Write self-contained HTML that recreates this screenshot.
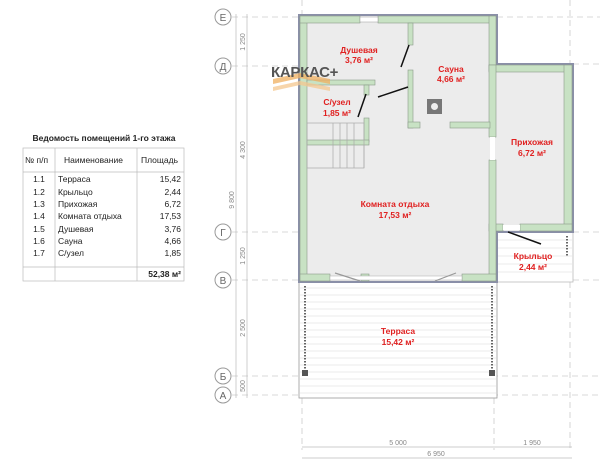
<!DOCTYPE html>
<html><head><meta charset="utf-8"><style>
body{margin:0;background:#fff;width:600px;height:464px;overflow:hidden;font-family:"Liberation Sans",sans-serif}
</style></head><body>
<svg width="600" height="464" viewBox="0 0 600 464" xmlns="http://www.w3.org/2000/svg" font-family="Liberation Sans, sans-serif">
<g stroke="#ccc" stroke-width="0.8" stroke-dasharray="6,4" fill="none">
<line x1="232" y1="17" x2="300" y2="17"/><line x1="497" y1="17" x2="600" y2="17"/>
<line x1="232" y1="66" x2="300" y2="66"/><line x1="573" y1="64" x2="600" y2="64"/>
<line x1="232" y1="232" x2="300" y2="232"/><line x1="573" y1="232" x2="600" y2="232"/>
<line x1="232" y1="280" x2="300" y2="280"/><line x1="573" y1="280" x2="600" y2="280"/>
<line x1="232" y1="376" x2="600" y2="376"/>
<line x1="232" y1="395" x2="600" y2="395"/>
<line x1="302" y1="0" x2="302" y2="14"/><line x1="302" y1="398" x2="302" y2="450"/>
<line x1="494" y1="398" x2="494" y2="450"/>
<line x1="570" y1="0" x2="570" y2="64"/><line x1="570" y1="282" x2="570" y2="450"/>
</g>
<g stroke="#bbb" stroke-width="0.7">
<line x1="247" y1="14" x2="247" y2="398"/><line x1="236" y1="14" x2="236" y2="398"/>
<line x1="302" y1="447" x2="572" y2="447"/><line x1="302" y1="458" x2="572" y2="458"/>
</g>
<g font-size="7" fill="#888" text-anchor="middle">
<text transform="translate(245,42) rotate(-90)">1 250</text>
<text transform="translate(245,150) rotate(-90)">4 300</text>
<text transform="translate(234,200) rotate(-90)">9 800</text>
<text transform="translate(245,256) rotate(-90)">1 250</text>
<text transform="translate(245,328) rotate(-90)">2 500</text>
<text transform="translate(245,386) rotate(-90)">500</text>
<text x="398" y="445">5 000</text><text x="532" y="445">1 950</text><text x="436" y="456">6 950</text>
</g>
<g fill="#fff" stroke="#999" stroke-width="1">
<circle cx="223" cy="17" r="8"/><circle cx="223" cy="66" r="8"/><circle cx="223" cy="232" r="8"/>
<circle cx="223" cy="280" r="8"/><circle cx="223" cy="376" r="8"/><circle cx="223" cy="395" r="8"/>
</g>
<g font-size="10" fill="#666" text-anchor="middle">
<text x="223" y="21">Е</text><text x="223" y="70">Д</text><text x="223" y="236">Г</text>
<text x="223" y="284">В</text><text x="223" y="380">Б</text><text x="223" y="399">А</text>
</g>
<rect x="299" y="282" width="198" height="116" fill="#fff" stroke="#999" stroke-width="0.8"/>
<g stroke="#e4e4e4" stroke-width="0.7">
<line x1="300" y1="288" x2="496" y2="288"/><line x1="300" y1="295" x2="496" y2="295"/><line x1="300" y1="302" x2="496" y2="302"/><line x1="300" y1="309" x2="496" y2="309"/><line x1="300" y1="316" x2="496" y2="316"/><line x1="300" y1="323" x2="496" y2="323"/><line x1="300" y1="330" x2="496" y2="330"/><line x1="300" y1="337" x2="496" y2="337"/><line x1="300" y1="344" x2="496" y2="344"/><line x1="300" y1="351" x2="496" y2="351"/><line x1="300" y1="358" x2="496" y2="358"/><line x1="300" y1="365" x2="496" y2="365"/><line x1="300" y1="372" x2="496" y2="372"/><line x1="300" y1="379" x2="496" y2="379"/><line x1="300" y1="386" x2="496" y2="386"/><line x1="300" y1="393" x2="496" y2="393"/>
<line x1="497" y1="240" x2="572" y2="240"/><line x1="497" y1="248" x2="572" y2="248"/><line x1="497" y1="256" x2="572" y2="256"/><line x1="497" y1="264" x2="572" y2="264"/><line x1="497" y1="272" x2="572" y2="272"/>
</g>
<rect x="497" y="232" width="76" height="50" fill="none" stroke="#bbb" stroke-width="0.8"/>
<g stroke="#333" stroke-width="1.5" stroke-dasharray="1.5,1.5">
<line x1="305" y1="286" x2="305" y2="369"/><line x1="492" y1="286" x2="492" y2="369"/><line x1="567" y1="236" x2="567" y2="256"/>
</g>
<rect x="302" y="370" width="6" height="6" fill="#555"/><rect x="489" y="370" width="6" height="6" fill="#555"/>
<path d="M299 15 H497 V64 H573 V232 H497 V282 H299 Z" fill="#ececec"/>
<path d="M299 15 H497 V64 H573 V232 H497 V282 H299 Z" fill="none" stroke="#8a8fa8" stroke-width="2"/>
<g fill="#c8e2c4" stroke="#8b9a8b" stroke-width="0.6">
<rect x="300" y="16" width="7" height="265"/>
<rect x="300" y="16" width="60" height="7"/><rect x="378" y="16" width="118" height="7"/>
<rect x="489" y="16" width="7" height="55"/>
<rect x="489" y="65" width="83" height="7"/>
<rect x="564" y="65" width="8" height="166"/>
<rect x="520" y="224" width="52" height="7"/><rect x="489" y="224" width="14" height="7"/>
<rect x="489" y="160" width="7" height="121"/>
<rect x="489" y="65" width="7" height="72"/>
<rect x="300" y="274" width="30" height="7"/><rect x="462" y="274" width="34" height="7"/><rect x="361" y="274" width="8" height="7"/>
<rect x="408" y="23" width="5" height="22"/><rect x="408" y="70" width="5" height="58"/>
<rect x="408" y="122" width="12" height="6"/><rect x="450" y="122" width="40" height="6"/>
<rect x="307" y="80" width="68" height="5"/>
<rect x="364" y="85" width="5" height="10"/>
<rect x="364" y="118" width="5" height="24"/><rect x="307" y="140" width="62" height="5"/>
</g>
<rect x="360" y="17" width="18" height="5" fill="#fff" stroke="#999" stroke-width="0.5"/>
<rect x="490" y="137" width="5" height="23" fill="#fff"/>
<rect x="503" y="225" width="17" height="5" fill="#fff"/>
<rect x="330" y="276" width="132" height="4" fill="#fff" stroke="#aaa" stroke-width="0.5"/>
<g stroke="#aaa" stroke-width="0.7" fill="none">
<rect x="307" y="123" width="57" height="45"/>
<line x1="333" y1="123" x2="333" y2="168"/><line x1="340" y1="123" x2="340" y2="168"/><line x1="347" y1="123" x2="347" y2="168"/><line x1="354" y1="123" x2="354" y2="168"/><line x1="364" y1="145" x2="364" y2="168"/>
</g>
<g stroke="#111" stroke-width="1.5">
<line x1="409" y1="45" x2="401" y2="67"/><line x1="408" y1="87" x2="378" y2="97"/><line x1="366" y1="94" x2="358" y2="117"/>
<line x1="508" y1="232" x2="541" y2="244"/>
</g>
<g stroke="#999" stroke-width="1.2"><line x1="335" y1="273" x2="360" y2="281"/><line x1="456" y1="273" x2="435" y2="281"/></g>
<rect x="427" y="99" width="15" height="15" fill="#777"/><circle cx="434.5" cy="106.5" r="3.5" fill="#eee"/>
<g opacity="0.75"><path d="M273 79 L300 73 L330 79 L330 84 L300 78 L273 84Z" fill="#f0b060"/><path d="M273 87 L300 81 L330 87 L330 91 L300 85 L273 91Z" fill="#f5c890"/></g>
<text x="271" y="77" font-size="15" font-weight="bold" fill="#555" letter-spacing="-0.3">КАРКАС+</text>
<g fill="#e02020" font-size="8.5" font-weight="bold" text-anchor="middle">
<text x="359" y="53">Душевая</text><text x="359" y="63">3,76 м²</text>
<text x="451" y="72">Сауна</text><text x="451" y="82">4,66 м²</text>
<text x="337" y="105">С/узел</text><text x="337" y="116">1,85 м²</text>
<text x="532" y="145">Прихожая</text><text x="532" y="156">6,72 м²</text>
<text x="395" y="207">Комната отдыха</text><text x="395" y="218">17,53 м²</text>
<text x="533" y="259">Крыльцо</text><text x="533" y="270">2,44 м²</text>
<text x="398" y="334">Терраса</text><text x="398" y="345">15,42 м²</text>
</g>
<text x="104" y="141" font-size="8.5" font-weight="bold" text-anchor="middle" fill="#222">Ведомость помещений 1-го этажа</text>
<g stroke="#bbb" stroke-width="0.7" fill="none">
<rect x="23" y="148" width="161" height="133"/>
<line x1="55" y1="148" x2="55" y2="281"/><line x1="137" y1="148" x2="137" y2="281"/>
<line x1="23" y1="172" x2="184" y2="172"/><line x1="23" y1="267" x2="184" y2="267"/>
</g>
<g font-size="8.5" fill="#222">
<text x="25" y="163">№ п/п</text><text x="64" y="163">Наименование</text><text x="141" y="163">Площадь</text>
<g text-anchor="middle"><text x="39" y="182">1.1</text><text x="39" y="195">1.2</text><text x="39" y="207">1.3</text><text x="39" y="219">1.4</text><text x="39" y="232">1.5</text><text x="39" y="244">1.6</text><text x="39" y="256">1.7</text></g>
<text x="58" y="182">Терраса</text><text x="58" y="195">Крыльцо</text><text x="58" y="207">Прихожая</text><text x="58" y="219">Комната отдыха</text><text x="58" y="232">Душевая</text><text x="58" y="244">Сауна</text><text x="58" y="256">С/узел</text>
<g text-anchor="end"><text x="181" y="182">15,42</text><text x="181" y="195">2,44</text><text x="181" y="207">6,72</text><text x="181" y="219">17,53</text><text x="181" y="232">3,76</text><text x="181" y="244">4,66</text><text x="181" y="256">1,85</text>
<text x="181" y="277" font-weight="bold" font-size="8.5">52,38 м²</text></g>
</g>
</svg>
</body></html>
